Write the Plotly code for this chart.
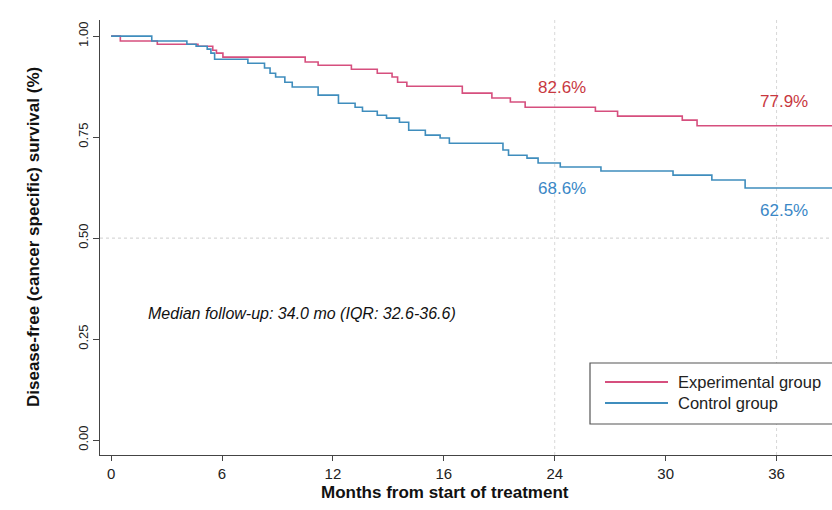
import plotly.graph_objects as go

# Kaplan-Meier step data (months, survival)
exp_t = [0, 0.5, 2.5, 4.7, 5.5, 5.7, 6.05, 10.5, 11.2, 13.0, 14.4, 15.2, 15.5, 16.0,
         19.0, 20.6, 21.6, 22.4, 26.2, 27.4, 30.9, 31.7, 39.5]
exp_s = [1.0, 0.988, 0.98, 0.975, 0.965, 0.958, 0.948, 0.936, 0.928, 0.918, 0.908, 0.899,
         0.886, 0.876, 0.859, 0.847, 0.837, 0.824, 0.814, 0.802, 0.792, 0.778, 0.778]

ctl_t = [0, 2.2, 4.1, 4.6, 5.2, 5.4, 5.6, 7.4, 8.3, 8.6, 8.9, 9.4, 9.8, 11.2, 12.3, 13.2,
         13.6, 14.4, 14.9, 15.6, 16.1, 17.0, 17.8, 18.3, 21.2, 21.5, 22.5, 23.1, 24.3, 26.5,
         30.4, 32.5, 34.3, 39.5]
ctl_s = [1.0, 0.988, 0.98, 0.975, 0.968, 0.958, 0.943, 0.933, 0.921, 0.908, 0.899, 0.886,
         0.874, 0.854, 0.834, 0.824, 0.814, 0.804, 0.797, 0.787, 0.767, 0.755, 0.748, 0.735,
         0.718, 0.705, 0.698, 0.686, 0.676, 0.666, 0.656, 0.644, 0.624, 0.624]

x_tickvals = [0, 6, 12, 18, 24, 30, 36]
x_ticktext = ["0", "6", "12", "16", "24", "30", "36"]
y_tickvals = [0, 0.25, 0.5, 0.75, 1.0]
y_ticktext = ["0.00", "0.25", "0.50", "0.75", "1.00"]

series_names = ["Experimental group", "Control group"]
label_months = [24, 36]
exp_labels = ["82.6%", "77.9%"]
ctl_labels = ["68.6%", "62.5%"]

exp_color = "#d64f7e"
ctl_color = "#3f8dbd"
exp_text_color = "#c8383f"
ctl_text_color = "#3a87c6"

FONT = "Liberation Sans, Arial, sans-serif"

fig = go.Figure()
fig.add_trace(go.Scatter(x=exp_t, y=exp_s, mode="lines", line_shape="hv",
                         line=dict(color=exp_color, width=1.6), name=series_names[0],
                         showlegend=False, hoverinfo="skip"))
fig.add_trace(go.Scatter(x=ctl_t, y=ctl_s, mode="lines", line_shape="hv",
                         line=dict(color=ctl_color, width=1.6), name=series_names[1],
                         showlegend=False, hoverinfo="skip"))

# reference lines
fig.add_shape(type="line", xref="paper", x0=0, x1=1, yref="y", y0=0.5, y1=0.5,
              line=dict(color="#cfcfcf", width=1, dash="dot"), layer="below")
for m in label_months:
    fig.add_shape(type="line", xref="x", x0=m, x1=m, yref="paper", y0=0, y1=1,
                  line=dict(color="#d8d8d8", width=1, dash="dot"), layer="below")

# percentage labels
exp_label_y = [0.874, 0.837]
ctl_label_y = [0.624, 0.569]
for m, t, yy in zip(label_months, exp_labels, exp_label_y):
    fig.add_annotation(x=m + 0.4, y=yy, text=t, showarrow=False, xanchor="center", yanchor="middle",
                       font=dict(family=FONT, size=17, color=exp_text_color))
for m, t, yy in zip(label_months, ctl_labels, ctl_label_y):
    fig.add_annotation(x=m + 0.4, y=yy, text=t, showarrow=False, xanchor="center", yanchor="middle",
                       font=dict(family=FONT, size=17, color=ctl_text_color))

# median follow-up note
fig.add_annotation(x=1.9, y=0.314, xanchor="left", yanchor="middle",
                   text="<i>Median follow-up: 34.0 mo (IQR: 32.6-36.6)</i>",
                   showarrow=False, font=dict(family=FONT, size=16, color="#111"))

# manual legend
W, H, L, T = 732.0, 435.0, 100.0, 20.0
def px(x):
    return (x - L) / W
def py(y):
    return (T + H - y) / H

fig.add_shape(type="rect", xref="paper", yref="paper", x0=px(590), x1=px(845),
              y0=py(424), y1=py(363), line=dict(color="#555", width=1.2), fillcolor="white")
for yy, col, name in [(382, exp_color, series_names[0]), (403, ctl_color, series_names[1])]:
    fig.add_shape(type="line", xref="paper", yref="paper", x0=px(605), x1=px(668),
                  y0=py(yy), y1=py(yy), line=dict(color=col, width=1.8))
    fig.add_annotation(xref="paper", yref="paper", x=px(676), y=py(yy), xanchor="left",
                       yanchor="middle", text=name, showarrow=False,
                       font=dict(family=FONT, size=16.5, color="#222"))

# axis titles
fig.add_annotation(xref="paper", yref="paper", x=px(445), y=py(492), xanchor="center",
                   yanchor="middle", text="<b>Months from start of treatment</b>", showarrow=False,
                   font=dict(family=FONT, size=17, color="#111"))
fig.add_annotation(xref="paper", yref="paper", x=px(33), y=py(237), xanchor="center",
                   yanchor="middle", textangle=-90,
                   text="<b>Disease-free (cancer specific) survival (%)</b>", showarrow=False,
                   font=dict(family=FONT, size=17, color="#111"))

fig.update_layout(
    width=832, height=510,
    margin=dict(l=100, r=0, t=20, b=55),
    paper_bgcolor="white", plot_bgcolor="white",
    showlegend=False,
    hovermode=False,
    font=dict(family=FONT, size=13, color="#222"),
    xaxis=dict(range=[-0.6, 39.0], tickvals=x_tickvals, ticktext=x_ticktext,
               showgrid=False, zeroline=False, showline=True, linecolor="#444", linewidth=1.3,
               ticks="outside", ticklen=5, tickcolor="#444", tickfont=dict(size=15)),
    yaxis=dict(range=[-0.037, 1.04], tickvals=y_tickvals, ticktext=y_ticktext,
               showgrid=False, zeroline=False, showline=True, linecolor="#444", linewidth=1.3,
               ticks="outside", ticklen=6, tickcolor="#444", tickangle=-90, tickfont=dict(size=13)),
)

fig.write_html("out.html", config={"displayModeBar": False},
               post_script="document.body.style.margin='0';document.body.style.overflow='hidden';")
